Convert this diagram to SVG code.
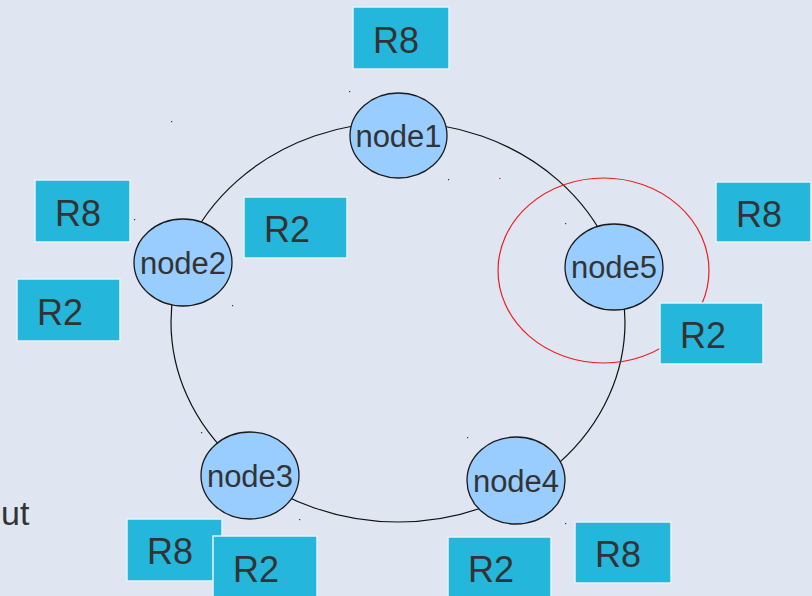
<svg xmlns="http://www.w3.org/2000/svg" width="812" height="596" viewBox="0 0 812 596">
  <style>
    .box { fill: #25b7db; stroke: #e6f2f8; stroke-width: 1.5; }
    .blbl { font-family: "Liberation Sans", Arial, sans-serif; font-size: 36px; fill: #333333; }
    .node { fill: #99ccff; stroke: #1a1a1a; stroke-width: 1.3; }
    .nlbl { font-family: "Liberation Sans", Arial, sans-serif; font-size: 31px; fill: #333333; text-anchor: middle; }
    .ring { fill: none; stroke: #111111; stroke-width: 1.2; }
    .dot { fill: #333333; }
  </style>
  <rect x="0" y="0" width="812" height="596" fill="#dfe6f1"/>

  <g id="connectors">
    <ellipse class="ring" cx="398" cy="322" rx="227" ry="200"/>
    <ellipse cx="603.5" cy="270.5" rx="105.5" ry="92.5" fill="none" stroke="#ee1c1c" stroke-width="1.2"/>
  </g>

  <g id="specks">
    <rect class="dot" x="349" y="91" width="1.2" height="1.2"/>
    <rect class="dot" x="171" y="121" width="1.2" height="1.2"/>
    <rect class="dot" x="448" y="179" width="1.2" height="1.2"/>
    <rect x="499" y="178" width="1.5" height="1" fill="#ee1c1c"/>
    <rect class="dot" x="134" y="219" width="1.2" height="1.2"/>
    <rect class="dot" x="232" y="305" width="1.2" height="1.2"/>
    <rect class="dot" x="565" y="223" width="1.2" height="1.2"/>
    <rect class="dot" x="467" y="437" width="1.2" height="1.2"/>
    <rect class="dot" x="565" y="523" width="1.2" height="1.2"/>
    <rect class="dot" x="299" y="519" width="1.2" height="1.2"/>
    <rect class="dot" x="201" y="432" width="1.2" height="1.2"/>
  </g>

  <g id="node1">
    <ellipse class="node" cx="398.5" cy="135.5" rx="48.5" ry="42.5"/>
    <text class="nlbl" x="398.5" y="146.5">node1</text>
  </g>
  <g id="node2">
    <ellipse class="node" cx="183" cy="262.5" rx="49" ry="43.5"/>
    <text class="nlbl" x="183" y="273.5">node2</text>
  </g>
  <g id="node3">
    <ellipse class="node" cx="250" cy="475.5" rx="49" ry="43.5"/>
    <text class="nlbl" x="250" y="486.5">node3</text>
  </g>
  <g id="node4">
    <ellipse class="node" cx="516" cy="480.5" rx="49" ry="43.5"/>
    <text class="nlbl" x="516" y="491.5">node4</text>
  </g>
  <g id="node5">
    <ellipse class="node" cx="614" cy="267" rx="49" ry="43"/>
    <text class="nlbl" x="614" y="278">node5</text>
  </g>

  <g id="r8-top">
    <rect class="box" x="353" y="7" width="96" height="62"/>
    <text class="blbl" x="373" y="53">R8</text>
  </g>
  <g id="r8-node2">
    <rect class="box" x="35" y="180" width="95" height="62"/>
    <text class="blbl" x="55" y="226">R8</text>
  </g>
  <g id="r2-left">
    <rect class="box" x="17" y="279" width="103" height="62"/>
    <text class="blbl" x="37" y="325">R2</text>
  </g>
  <g id="r2-center">
    <rect class="box" x="244" y="197" width="103" height="61"/>
    <text class="blbl" x="264" y="242">R2</text>
  </g>
  <g id="r8-right">
    <rect class="box" x="716" y="182" width="95" height="60"/>
    <text class="blbl" x="736" y="227">R8</text>
  </g>
  <g id="r2-right">
    <rect class="box" x="660" y="303" width="103" height="61"/>
    <text class="blbl" x="680" y="348">R2</text>
  </g>
  <g id="r8-node3">
    <rect class="box" x="127" y="519" width="95" height="62"/>
    <text class="blbl" x="147" y="564">R8</text>
  </g>
  <g id="r2-node3">
    <rect class="box" x="213" y="536" width="104" height="64"/>
    <text class="blbl" x="233" y="582">R2</text>
  </g>
  <g id="r2-node4">
    <rect class="box" x="448" y="537" width="103" height="64"/>
    <text class="blbl" x="468" y="582">R2</text>
  </g>
  <g id="r8-node4">
    <rect class="box" x="575" y="522" width="96" height="61"/>
    <text class="blbl" x="595" y="567">R8</text>
  </g>

  <text x="1" y="525" font-family="Liberation Sans, Arial, sans-serif" font-size="34" fill="#333333">ut</text>
</svg>
